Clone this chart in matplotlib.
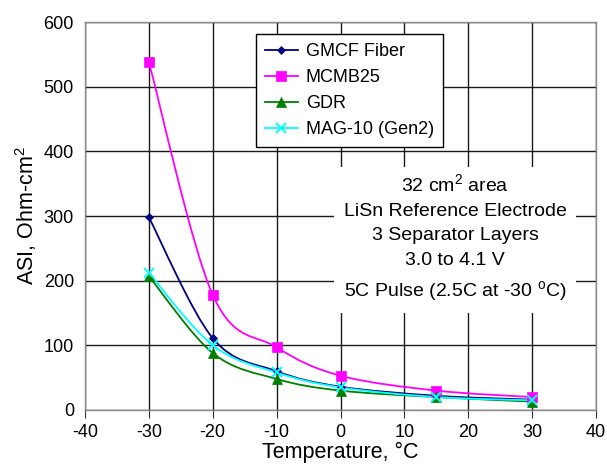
import matplotlib.pyplot as plt
from matplotlib.path import Path
from matplotlib.patches import PathPatch

plt.rcParams['font.family'] = ['Liberation Sans', 'DejaVu Sans']
plt.rcParams['axes.unicode_minus'] = False
plt.rcParams['mathtext.fontset'] = 'custom'
plt.rcParams['mathtext.rm'] = 'Liberation Sans'
plt.rcParams['mathtext.it'] = 'Liberation Sans:italic'

temps = [-30, -20, -10, 0, 15, 30]
gmcf  = [298, 111, 60, 36, 22, 16]
mcmb  = [538, 178, 97, 53, 30, 20]
gdr   = [207, 88, 48, 30, 20, 13]
mag10 = [212, 100, 58, 35, 20, 15]

series = [
    ('GMCF Fiber',    gmcf,  '#000080', 'D', 4.5),
    ('MCMB25',        mcmb,  '#ff00ff', 's', 6.5),
    ('GDR',           gdr,   '#008000', '^', 6.5),
    ('MAG-10 (Gen2)', mag10, '#00ffff', 'x', 6.5),
]

def smooth_path(xs, ys, t=1/6.0):
    # bezier through the points, like a smoothed line in a spreadsheet
    verts = [(xs[0], ys[0])]
    codes = [Path.MOVETO]
    n = len(xs)
    for i in range(n - 1):
        x0, y0 = (xs[i-1], ys[i-1]) if i > 0 else (xs[i], ys[i])
        x1, y1 = xs[i], ys[i]
        x2, y2 = xs[i+1], ys[i+1]
        x3, y3 = (xs[i+2], ys[i+2]) if i + 2 < n else (x2, y2)
        c1 = (x1 + (x2 - x0) * t, y1 + (y2 - y0) * t)
        c2 = (x2 - (x3 - x1) * t, y2 - (y3 - y1) * t)
        verts += [c1, c2, (x2, y2)]
        codes += [Path.CURVE4] * 3
    return Path(verts, codes)

fig = plt.figure(figsize=(6.07, 4.70), dpi=100)
ax = fig.add_axes([85/607, 60/470, 511/607, 388/470])

for name, vals, col, mk, ms in series:
    ax.add_patch(PathPatch(smooth_path(temps, vals), fill=False,
                           edgecolor=col, linewidth=1.3, zorder=3))
    ax.plot(temps, vals, linestyle='none', marker=mk, markersize=ms,
            color=col, markeredgewidth=1.4 if mk == 'x' else 0.5, zorder=4)
    ax.plot([], [], color=col, marker=mk, markersize=ms, label=name,
            linewidth=1.3, markeredgewidth=1.4 if mk == 'x' else 0.5)

ax.set_xlim(-40, 40)
ax.set_ylim(0, 600)
ax.set_xticks(range(-40, 41, 10))
ax.set_yticks(range(0, 601, 100))
ax.grid(True, color='#1a1a1a', linewidth=1.0)
ax.set_axisbelow(True)
for s in ax.spines.values():
    s.set_color('#8a8a8a')
    s.set_linewidth(1.0)
ax.tick_params(axis='x', labelsize=13, length=6, color='#333333', pad=4)
ax.tick_params(axis='y', labelsize=13, length=0, pad=8)

ax.set_xlabel('Temperature, °C', fontsize=15.5, labelpad=1)
ax.set_ylabel('ASI, Ohm-cm$^2$', fontsize=15.5, labelpad=3)

leg = ax.legend(loc='upper left', bbox_to_anchor=((256-85)/511, (410-34)/388),
                borderaxespad=0, fontsize=13, frameon=True, fancybox=False,
                edgecolor='black', framealpha=1, borderpad=0.5,
                handlelength=1.8, handletextpad=0.45, labelspacing=0.5)
leg.get_frame().set_linewidth(1.0)
leg.set_zorder(5)

ax.text(0.724, 0.443, '32 cm$^2$ area\nLiSn Reference Electrode\n3 Separator Layers\n'
        '3.0 to 4.1 V\n5C Pulse (2.5C at -30 $^{\\mathrm{o}}$C)',
        transform=ax.transAxes, fontsize=14, ha='center', va='center',
        linespacing=1.58, zorder=5,
        bbox=dict(boxstyle='square,pad=0.5', facecolor='white', edgecolor='none'))

fig.savefig('out.png', dpi=100)
